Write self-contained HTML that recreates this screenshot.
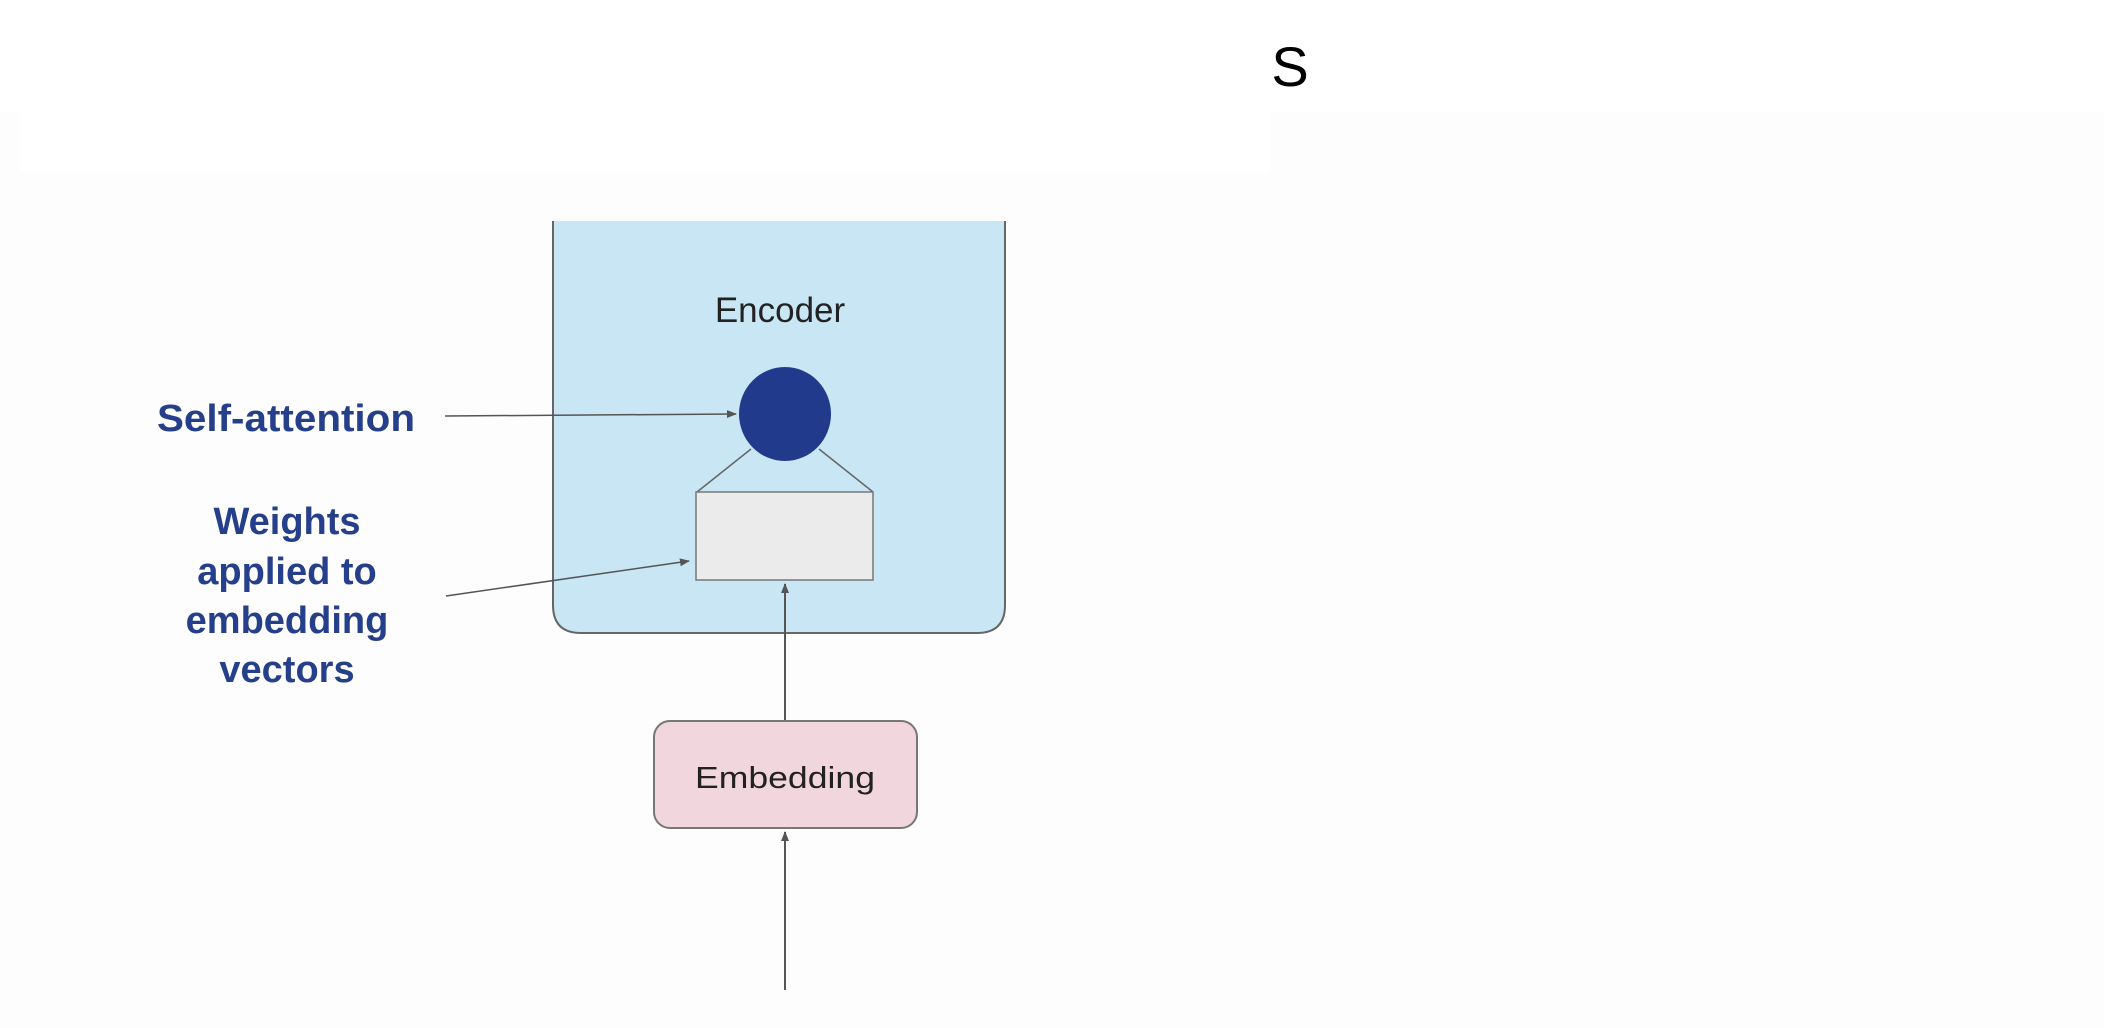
<!DOCTYPE html>
<html><head><meta charset="utf-8"><style>
html,body{margin:0;padding:0;background:#fff;}
svg{display:block;}
</style></head><body>
<svg width="2104" height="1028" viewBox="0 0 2104 1028" xmlns="http://www.w3.org/2000/svg">
<defs>
<marker id="ah" markerWidth="10" markerHeight="10" refX="9" refY="5" orient="auto" markerUnits="userSpaceOnUse">
<path d="M0,1 L10,5 L0,9 z" fill="#555"/>
</marker>
</defs>
<rect x="0" y="0" width="2104" height="1028" fill="#ffffff"/>
<rect x="0" y="112" width="2104" height="916" fill="#fdfdfd"/>
<rect x="20" y="112" width="1250" height="60" fill="#ffffff"/>
<text x="1290" y="86" font-family="Liberation Sans, sans-serif" font-size="56" fill="#000" text-anchor="middle">S</text>

<path d="M553,221 L553,605 Q553,633 581,633 L977,633 Q1005,633 1005,605 L1005,221" fill="#c8e6f3" stroke="#666" stroke-width="2"/>
<text x="780" y="322" font-family="Liberation Sans, sans-serif" font-size="35" fill="#222" text-anchor="middle">Encoder</text>
<line x1="751" y1="449" x2="697" y2="492" stroke="#666" stroke-width="1.5"/>
<line x1="819" y1="449" x2="873" y2="492" stroke="#666" stroke-width="1.5"/>
<rect x="696" y="492" width="177" height="88" fill="#ebebeb" stroke="#777" stroke-width="1.5"/>
<ellipse cx="785" cy="414" rx="46" ry="47" fill="#213a8c"/>

<line x1="445" y1="416" x2="736" y2="414" stroke="#555" stroke-width="1.5" marker-end="url(#ah)"/>
<line x1="446" y1="596" x2="689" y2="561" stroke="#555" stroke-width="1.5" marker-end="url(#ah)"/>
<line x1="785" y1="721" x2="785" y2="584" stroke="#555" stroke-width="2" marker-end="url(#ah)"/>
<line x1="785" y1="990" x2="785" y2="832" stroke="#555" stroke-width="2" marker-end="url(#ah)"/>

<rect x="654" y="721" width="263" height="107" rx="16" fill="#f2d6de" stroke="#777" stroke-width="2"/>
<text x="785" y="788" font-family="Liberation Sans, sans-serif" font-size="31" fill="#222" text-anchor="middle" textLength="180" lengthAdjust="spacingAndGlyphs">Embedding</text>

<g font-family="Liberation Sans, sans-serif" font-weight="bold" font-size="38" fill="#263f8a" text-anchor="middle">
<text x="286" y="431" textLength="258" lengthAdjust="spacingAndGlyphs">Self-attention</text>
<text x="287" y="534">Weights</text>
<text x="287" y="584">applied to</text>
<text x="287" y="633">embedding</text>
<text x="287" y="682">vectors</text>
</g>
</svg>
</body></html>
